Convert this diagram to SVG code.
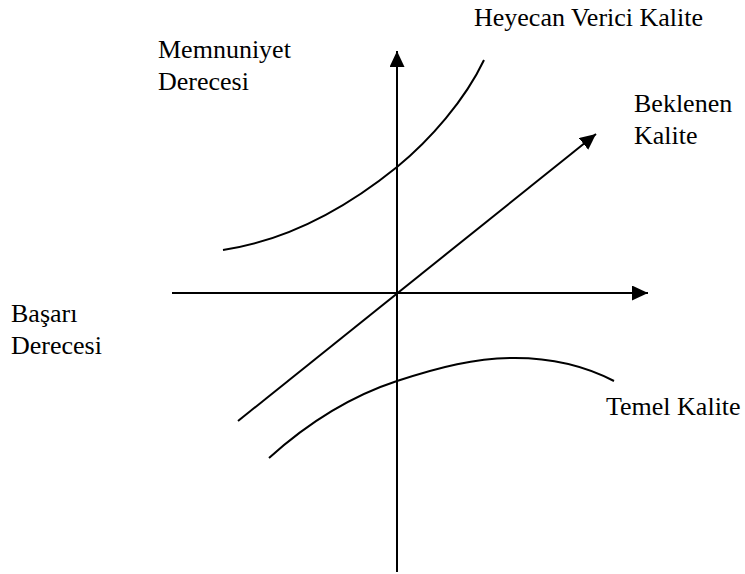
<svg xmlns="http://www.w3.org/2000/svg" width="745" height="574" viewBox="0 0 745 574">
  <style>
    .ax { stroke: #000; stroke-width: 2; fill: none; }
    .cv { stroke: #000; stroke-width: 2; fill: none; }
  </style>
  <defs>
    <marker id="ah" markerUnits="userSpaceOnUse" markerWidth="18" markerHeight="16" refX="16" refY="7.5" orient="auto">
      <path d="M0,0 L16,7.5 L0,15 z" fill="#000"/>
    </marker>
  </defs>
  <rect width="745" height="574" fill="#fff"/>
  <g id="connectors">
    <line class="ax" x1="397" y1="572" x2="397" y2="51" marker-end="url(#ah)"/>
    <line class="ax" x1="172" y1="293" x2="648" y2="293" marker-end="url(#ah)"/>
    <line class="ax" x1="238" y1="421" x2="596" y2="134" marker-end="url(#ah)"/>
  </g>
  <g id="curve-heyecan">
    <path class="cv" d="M223,250 C290,240 350,205 397,167 C430,140 465,100 484,60"/>
  </g>
  <g id="curve-temel">
    <path class="cv" d="M269,458 C300,430 345,398 397,381 C440,367 475,358 515,358 C550,358 585,366 614,381"/>
  </g>
  <g font-family="Liberation Serif, Times New Roman, DejaVu Serif, serif" font-size="26" fill="#000">
    <g id="label-heyecan"><text x="474" y="26">Heyecan Verici Kalite</text></g>
    <g id="label-memnuniyet"><text x="158" y="58">Memnuniyet</text><text x="158" y="90">Derecesi</text></g>
    <g id="label-beklenen"><text x="634" y="112">Beklenen</text><text x="634" y="144">Kalite</text></g>
    <g id="label-basari"><text x="11" y="322">Başarı</text><text x="11" y="354">Derecesi</text></g>
    <g id="label-temel"><text x="606" y="415">Temel Kalite</text></g>
  </g>
</svg>
